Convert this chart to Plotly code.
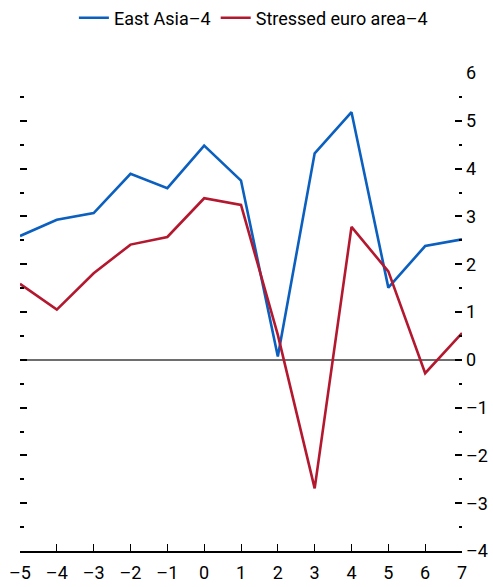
import plotly.graph_objects as go

years = [-5, -4, -3, -2, -1, 0, 1, 2, 3, 4, 5, 6, 7]
east_asia = [2.59, 2.93, 3.07, 3.89, 3.59, 4.48, 3.75, 0.07, 4.32, 5.18, 1.51, 2.38, 2.52]
stressed_euro = [1.59, 1.05, 1.81, 2.41, 2.57, 3.38, 3.24, 0.52, -2.69, 2.78, 1.85, -0.28, 0.56]

x_tickvals = years
x_ticktext = ["–5", "–4", "–3", "–2", "–1", "0", "1", "2", "3", "4", "5", "6", "7"]
y_tickvals = [6, 5, 4, 3, 2, 1, 0, -1, -2, -3, -4]
y_ticktext = ["6", "5", "4", "3", "2", "1", "0", "–1", "–2", "–3", "–4"]

FONT = "Roboto, Liberation Sans, sans-serif"
BLUE = "#0a5fbf"
RED = "#b3182f"

fig = go.Figure()
fig.add_trace(go.Scatter(x=years, y=east_asia, mode="lines", name="East Asia–4",
                         line=dict(color=BLUE, width=2.6), yaxis="y"))
fig.add_trace(go.Scatter(x=years, y=stressed_euro, mode="lines", name="Stressed euro area–4",
                         line=dict(color=RED, width=2.6), yaxis="y2"))

yaxis_common = dict(range=[-4, 6], tickvals=y_tickvals, ticks="inside", ticklen=7,
                    tickwidth=1.5, tickcolor="black", showgrid=False, showline=False,
                    automargin=False,
                    minor=dict(dtick=0.5, tick0=0, ticks="inside", ticklen=3.5,
                               tickwidth=1.5, tickcolor="black", showgrid=False))

fig.update_layout(
    width=493, height=587,
    margin=dict(l=20, r=31, t=73, b=36, autoexpand=False),
    paper_bgcolor="white", plot_bgcolor="white",
    font=dict(family=FONT, size=18, color="black"),
    showlegend=True,
    legend=dict(orientation="h", x=0.514, xanchor="center", xref="container",
                y=1 - 18 / 587, yanchor="middle", yref="container",
                font=dict(family=FONT, size=18, color="black"), itemwidth=30),
    xaxis=dict(range=[-5, 7], tickvals=x_tickvals, ticktext=x_ticktext,
               ticks="inside", ticklen=7, tickwidth=1.2, tickcolor="black",
               showline=True, linecolor="black", linewidth=1.5, automargin=False,
               ticklabelstandoff=5,
               showgrid=False, zeroline=False, tickfont=dict(size=18)),
    yaxis=dict(**yaxis_common, showticklabels=False, side="left",
               zeroline=True, zerolinecolor="#6e6e6e", zerolinewidth=1.5),
    yaxis2=dict(**yaxis_common, ticktext=y_ticktext, showticklabels=True, side="right",
                overlaying="y", zeroline=False, ticklabelstandoff=3,
                tickfont=dict(size=18)),
)

fig.write_html("out.html", config={"displayModeBar": False},
               post_script="document.body.style.margin='0';document.body.style.overflow='hidden';")
